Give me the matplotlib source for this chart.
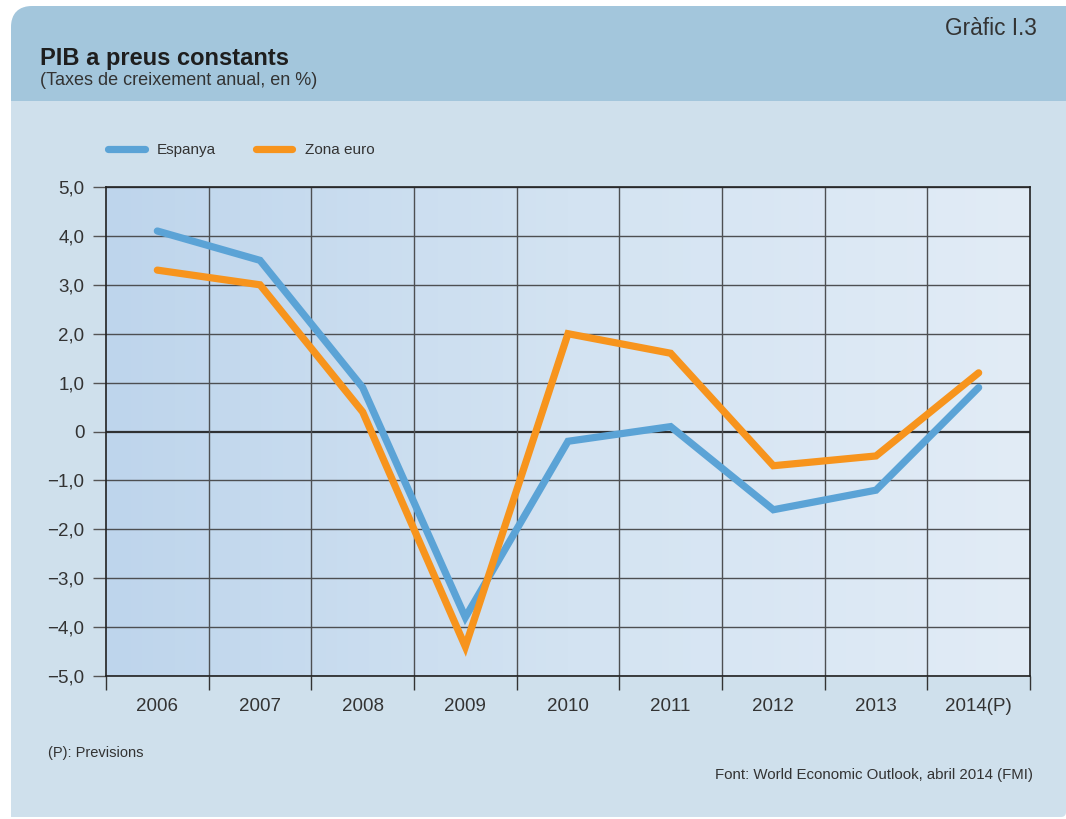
import numpy as np
import matplotlib.pyplot as plt
from matplotlib.path import Path
from matplotlib.patches import PathPatch, Rectangle
from matplotlib.colors import LinearSegmentedColormap

plt.rcParams['font.family'] = ['Liberation Sans', 'DejaVu Sans']

# data
years = ["2006", "2007", "2008", "2009", "2010", "2011", "2012", "2013", "2014(P)"]
espanya = [4.1, 3.5, 0.9, -3.8, -0.2, 0.1, -1.6, -1.2, 0.9]
zona_euro = [3.3, 3.0, 0.4, -4.4, 2.0, 1.6, -0.7, -0.5, 1.2]
y_ticks = [-5, -4, -3, -2, -1, 0, 1, 2, 3, 4, 5]
y_labels = ["\u22125,0", "\u22124,0", "\u22123,0", "\u22122,0", "\u22121,0", "0",
            "1,0", "2,0", "3,0", "4,0", "5,0"]

W, H = 1066, 819
blue = "#5ba3d6"
orange = "#f7941d"
text_col = "#333333"
grid_col = "#4d4f52"

fig = plt.figure(figsize=(W / 100, H / 100), dpi=100, facecolor="white")

# background card, drawn in pixel coordinates
bg = fig.add_axes([0, 0, 1, 1], zorder=-1)
bg.set_xlim(0, W)
bg.set_ylim(H, 0)
bg.axis("off")

r1, r2 = 22, 5
x0, y0, x1, y1 = 11, 6, W, 817
verts = [(x0, y1), (x0, y0 + r1), (x0, y0), (x0 + r1, y0), (x1, y0),
         (x1, y1 - r2), (x1, y1), (x1 - r2, y1), (x0, y1), (x0, y1)]
codes = [Path.MOVETO, Path.LINETO, Path.CURVE3, Path.CURVE3, Path.LINETO,
         Path.LINETO, Path.CURVE3, Path.CURVE3, Path.LINETO, Path.CLOSEPOLY]
card = PathPatch(Path(verts, codes), facecolor="#cfe0ec", edgecolor="none")
bg.add_patch(card)
header = Rectangle((0, 0), W, 101, facecolor="#a3c6dc", edgecolor="none")
bg.add_patch(header)
header.set_clip_path(card)

# main chart
ax = fig.add_axes([106 / W, 1 - 676 / H, (1030 - 106) / W, (676 - 187) / H])
grad = np.linspace(0, 1, 256).reshape(1, -1)
cmap = LinearSegmentedColormap.from_list("bgfill", ["#bed5ec", "#d3e3f2", "#e2ecf6"])
ax.imshow(grad, cmap=cmap, aspect="auto", extent=[0, 9, -5, 5], zorder=0)

x = np.arange(len(years)) + 0.5
for yv in y_ticks:
    if yv == 0:
        ax.axhline(yv, color="#2f3133", lw=1.6, zorder=1)
    else:
        ax.axhline(yv, color=grid_col, lw=1.0, zorder=1)
for xv in range(1, len(years)):
    ax.axvline(xv, color=grid_col, lw=1.0, zorder=1)

ax.plot(x, espanya, color=blue, lw=5.2, solid_capstyle="round",
        solid_joinstyle="miter", label="Espanya", zorder=3)
ax.plot(x, zona_euro, color=orange, lw=5.2, solid_capstyle="round",
        solid_joinstyle="miter", label="Zona euro", zorder=3)

ax.set_xlim(0, 9)
ax.set_ylim(-5, 5)
ax.set_yticks(y_ticks)
ax.set_yticklabels(y_labels)
ax.set_xticks(range(0, 10))
ax.set_xticklabels([])
ax.set_xticks(x, minor=True)
ax.set_xticklabels(years, minor=True)
ax.tick_params(axis="y", direction="out", length=9.5, width=1.0, color="#555555",
               pad=6, labelsize=13.5, labelcolor=text_col)
ax.tick_params(axis="x", which="major", direction="out", length=10, width=1.0,
               color="#333333")
ax.tick_params(axis="x", which="minor", length=0, pad=16, labelsize=13.5,
               labelcolor=text_col)
for sp in ax.spines.values():
    sp.set_color("#222222")
    sp.set_linewidth(1.2)
    sp.set_zorder(4)

leg = ax.legend(loc="center left", bbox_to_anchor=(108 / W, 1 - 150 / H),
                bbox_transform=fig.transFigure, ncol=2, frameon=False,
                fontsize=11, handlelength=2.4, handletextpad=0.8,
                columnspacing=2.6, borderpad=0, borderaxespad=0)
for t in leg.get_texts():
    t.set_color(text_col)

# titles and notes
fig.text(40 / W, 1 - 65 / H, "PIB a preus constants", fontsize=17,
         fontweight="bold", color="#1e1e1e", va="baseline", ha="left")
fig.text(40 / W, 1 - 85 / H, "(Taxes de creixement anual, en %)", fontsize=13,
         color=text_col, va="baseline", ha="left")
fig.text(1037 / W, 1 - 35 / H, "Gràfic I.3", fontsize=16.3, color=text_col,
         va="baseline", ha="right")
fig.text(48 / W, 1 - 757 / H, "(P): Previsions", fontsize=10.5, color=text_col,
         va="baseline", ha="left")
fig.text(1033 / W, 1 - 779 / H, "Font: World Economic Outlook, abril 2014 (FMI)",
         fontsize=10.8, color=text_col, va="baseline", ha="right")

fig.savefig("out.png", dpi=100, facecolor="white")
